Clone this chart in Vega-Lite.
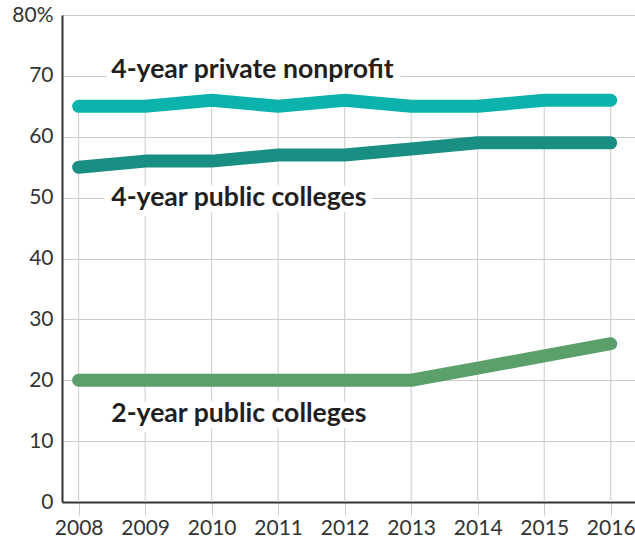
{
  "$schema": "https://vega.github.io/schema/vega-lite/v6.json",
  "width": 573,
  "height": 487,
  "autosize": {"type": "none"},
  "padding": {"left": 62, "top": 15, "right": 0, "bottom": 40},
  "background": "white",
  "config": {"view": {"stroke": null}, "font": "Lato"},
  "datasets": {
    "series": [
      {"year": 2008, "value": 65, "series": "private"},
      {"year": 2009, "value": 65, "series": "private"},
      {"year": 2010, "value": 66, "series": "private"},
      {"year": 2011, "value": 65, "series": "private"},
      {"year": 2012, "value": 66, "series": "private"},
      {"year": 2013, "value": 65, "series": "private"},
      {"year": 2014, "value": 65, "series": "private"},
      {"year": 2015, "value": 66, "series": "private"},
      {"year": 2016, "value": 66, "series": "private"},
      {"year": 2008, "value": 55, "series": "public4"},
      {"year": 2009, "value": 56, "series": "public4"},
      {"year": 2010, "value": 56, "series": "public4"},
      {"year": 2011, "value": 57, "series": "public4"},
      {"year": 2012, "value": 57, "series": "public4"},
      {"year": 2013, "value": 58, "series": "public4"},
      {"year": 2014, "value": 59, "series": "public4"},
      {"year": 2015, "value": 59, "series": "public4"},
      {"year": 2016, "value": 59, "series": "public4"},
      {"year": 2008, "value": 20, "series": "public2"},
      {"year": 2009, "value": 20, "series": "public2"},
      {"year": 2010, "value": 20, "series": "public2"},
      {"year": 2011, "value": 20, "series": "public2"},
      {"year": 2012, "value": 20, "series": "public2"},
      {"year": 2013, "value": 20, "series": "public2"},
      {"year": 2014, "value": 22, "series": "public2"},
      {"year": 2015, "value": 24, "series": "public2"},
      {"year": 2016, "value": 26, "series": "public2"}
    ],
    "labels": [
      {"year": 2008.49, "value": 69.7, "label": "4-year private nonprofit"},
      {"year": 2008.49, "value": 48.7, "label": "4-year public colleges"},
      {"year": 2008.49, "value": 13.2, "label": "2-year public colleges"}
    ]
  },
  "layer": [
    {
      "data": {"name": "series"},
      "transform": [{"filter": "datum.series == 'private'"}],
      "mark": {"type": "rule", "color": "#cccccc", "strokeWidth": 1},
      "encoding": {
        "x": {
          "field": "year", "type": "quantitative",
          "scale": {"domain": [2007.75, 2016.365], "nice": false, "zero": false},
          "axis": {
            "values": [2008, 2009, 2010, 2011, 2012, 2013, 2014, 2015, 2016],
            "format": "d", "title": null, "grid": false,
            "domainColor": "#333333", "domainWidth": 2,
            "tickColor": "#cccccc", "tickSize": 13, "tickWidth": 1,
            "labelFontSize": 21, "labelColor": "#333333", "labelPadding": 2,
            "labelFont": "Lato"
          }
        },
        "y": {
          "field": "value", "type": "quantitative",
          "scale": {"domain": [0, 80], "nice": false},
          "axis": {
            "values": [0, 10, 20, 30, 40, 50, 60, 70, 80],
            "title": null, "grid": true, "gridColor": "#cccccc", "gridWidth": 1,
            "ticks": false, "domainColor": "#333333", "domainWidth": 2,
            "labelFontSize": 21, "labelColor": "#333333", "labelPadding": 9,
            "labelFont": "Lato",
            "labelExpr": "datum.value == 80 ? '80%' : datum.label"
          }
        },
        "y2": {"datum": 0}
      }
    },
    {
      "data": {"name": "labels"},
      "mark": {"type": "text", "align": "left", "baseline": "alphabetic", "fontSize": 26.6, "fontWeight": "bold", "font": "Lato", "stroke": "white", "strokeWidth": 13, "fill": "white", "strokeJoin": "round"},
      "encoding": {
        "x": {"field": "year", "type": "quantitative"},
        "y": {"field": "value", "type": "quantitative"},
        "text": {"field": "label"}
      }
    },
    {
      "data": {"name": "series"},
      "mark": {"type": "line", "strokeWidth": 13, "strokeCap": "round", "strokeJoin": "round"},
      "encoding": {
        "x": {"field": "year", "type": "quantitative"},
        "y": {"field": "value", "type": "quantitative"},
        "color": {
          "field": "series", "type": "nominal",
          "scale": {"domain": ["private", "public4", "public2"], "range": ["#0bb3ac", "#188f82", "#5b9f6b"]},
          "legend": null
        }
      }
    },
    {
      "data": {"name": "labels"},
      "mark": {"type": "text", "align": "left", "baseline": "alphabetic", "fontSize": 26.6, "fontWeight": "bold", "font": "Lato", "color": "#231f20"},
      "encoding": {
        "x": {"field": "year", "type": "quantitative"},
        "y": {"field": "value", "type": "quantitative"},
        "text": {"field": "label"}
      }
    }
  ]
}
